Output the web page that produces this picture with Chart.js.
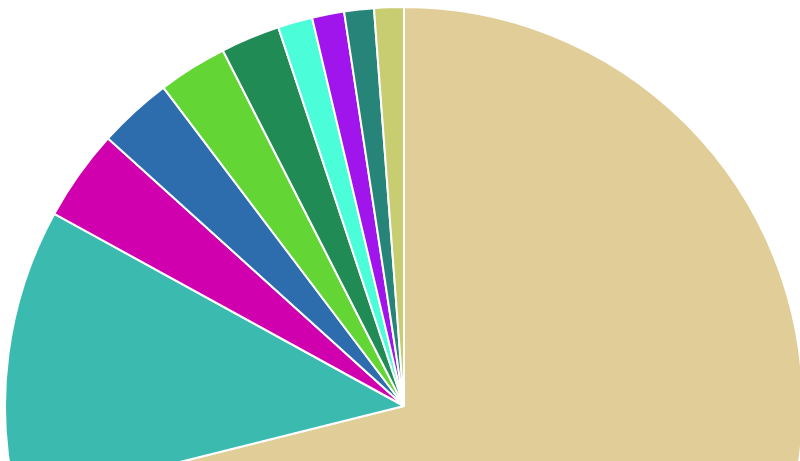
<!DOCTYPE html>
<html>
<head>
<meta charset="utf-8">
<script src="https://cdn.jsdelivr.net/npm/chart.js@4"></script>
<style>
  html, body { margin: 0; padding: 0; background: #fff; overflow: hidden; width: 800px; height: 461px; }
  #wrap { position: absolute; left: 0; top: 2px; width: 808px; height: 808px; }
</style>
</head>
<body>
<div id="wrap"><canvas id="c"></canvas></div>
<script>
const labels = ['A', 'B', 'C', 'D', 'E', 'F', 'G', 'H', 'I', 'J'];
const values = [71.1, 11.9, 3.7, 3.0, 2.8, 2.4, 1.4, 1.3, 1.2, 1.2];
const colors = ['#E0CD97', '#3BBBAF', '#D000AE', '#2D6DAD', '#63D636',
                '#218B55', '#4BFDD9', '#A015EC', '#268479', '#C9CD72'];

new Chart(document.getElementById('c'), {
  type: 'pie',
  data: {
    labels: labels,
    datasets: [{
      data: values,
      backgroundColor: colors,
      borderColor: '#ffffff',
      borderWidth: 2
    }]
  },
  options: {
    responsive: true,
    maintainAspectRatio: false,
    animation: false,
    layout: { padding: 4 },
    plugins: {
      legend: { display: false },
      tooltip: { enabled: false }
    }
  }
});
</script>
</body>
</html>
